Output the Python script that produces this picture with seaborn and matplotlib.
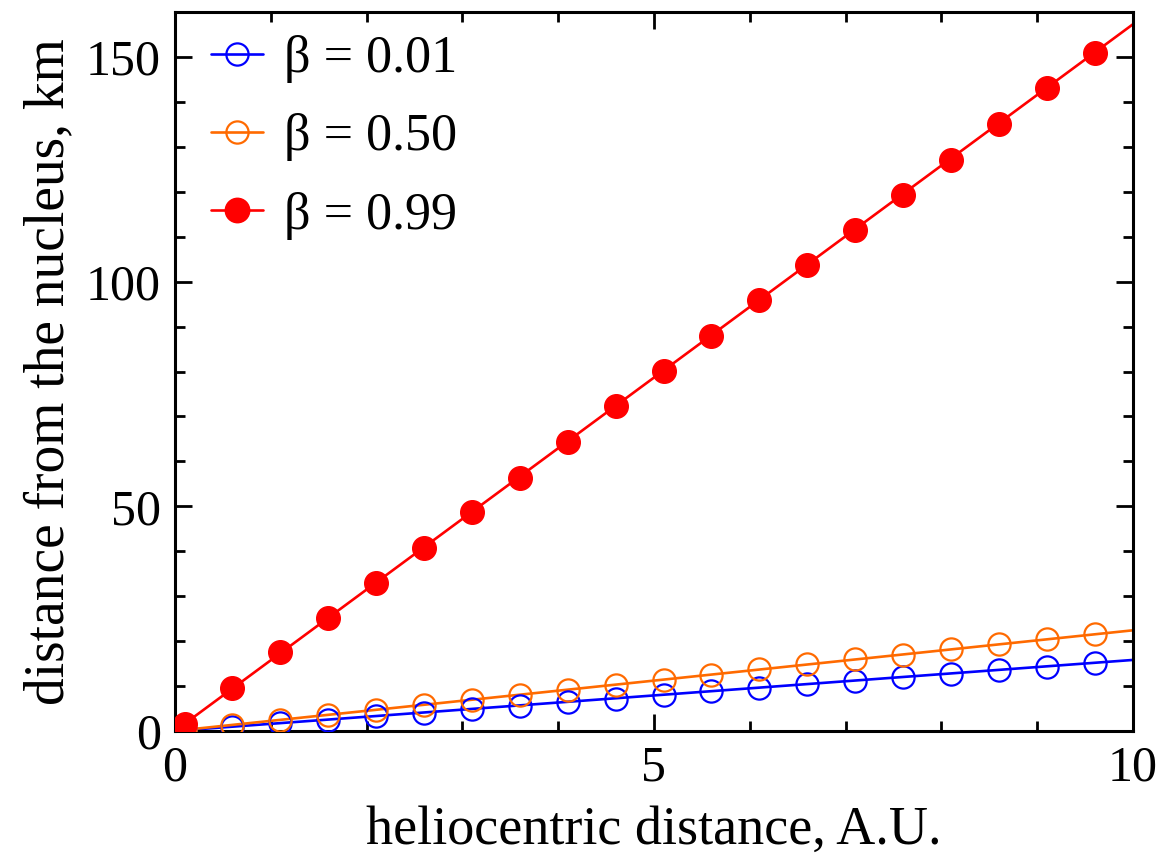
import numpy as np
import pandas as pd
import matplotlib
matplotlib.use("Agg")
import matplotlib.pyplot as plt
import seaborn as sns
from matplotlib.lines import Line2D
from matplotlib.ticker import MultipleLocator

# ---- data ----
x_pts = [0.1, 0.6, 1.1, 1.6, 2.1, 2.6, 3.1, 3.6, 4.1, 4.6,
         5.1, 5.6, 6.1, 6.6, 7.1, 7.6, 8.1, 8.6, 9.1, 9.6]
beta001 = [0.16, 0.94, 1.73, 2.5, 3.3, 4.1, 4.9, 5.6, 6.4, 7.2,
           8.0, 8.8, 9.6, 10.4, 11.1, 11.9, 12.7, 13.5, 14.3, 15.1]
beta050 = [0.22, 1.34, 2.46, 3.58, 4.7, 5.8, 6.9, 8.1, 9.2, 10.3,
           11.4, 12.5, 13.7, 14.8, 15.9, 17.0, 18.2, 19.3, 20.4, 21.5]
beta099 = [1.6, 9.6, 17.6, 25.1, 32.9, 40.7, 48.7, 56.4, 64.4, 72.4,
           80.2, 88.0, 96.0, 103.6, 111.6, 119.3, 127.1, 135.1, 143.1, 150.9]
line_x = [0.0, 10.0]
line001 = [0.0, 15.8]
line050 = [0.0, 22.4]
line099 = [0.0, 157.3]
labels = ["β = 0.01", "β = 0.50", "β = 0.99"]
colors = ["#0000FF", "#FF6A00", "#FF0000"]

sns.set_theme(style="ticks")
plt.rcParams['font.family'] = ['Liberation Serif', 'DejaVu Serif']
for k in ["text.color", "axes.labelcolor", "xtick.color", "ytick.color", "axes.edgecolor"]:
    plt.rcParams[k] = "black"

fig = plt.figure(figsize=(11.68, 8.65), dpi=100)
ax = fig.add_axes([0.1498, 0.155, 0.8202, 0.831])

series = [(beta001, line001, False), (beta050, line050, False), (beta099, line099, True)]
handles = []
for (pts, ln, filled), lab, c in zip(series, labels, colors):
    sns.lineplot(x=line_x, y=ln, ax=ax, color=c, linewidth=1.9, zorder=2)
    df = pd.DataFrame({"x": x_pts, "y": pts})
    if filled:
        ax.plot(df.x, df.y, linestyle="none", marker="o", markersize=17,
                markerfacecolor=c, markeredgecolor=c, zorder=3)
    else:
        ax.plot(df.x, df.y, linestyle="none", marker="o", markersize=16,
                markerfacecolor="none", markeredgecolor=c, markeredgewidth=1.6, zorder=3)
    handles.append(Line2D([0], [0], color=c, linewidth=1.9, marker="o",
                          markersize=17 if filled else 16,
                          markerfacecolor=c if filled else "none",
                          markeredgecolor=c, markeredgewidth=1.6))

ax.set_xlim(0, 10)
ax.set_ylim(0, 160)
ax.xaxis.set_major_locator(MultipleLocator(5))
ax.xaxis.set_minor_locator(MultipleLocator(1))
ax.yaxis.set_major_locator(MultipleLocator(50))
ax.yaxis.set_minor_locator(MultipleLocator(10))
ax.tick_params(which="both", direction="in", top=True, right=True,
               width=2, labelsize=36, colors="black")
ax.tick_params(which="major", length=12, pad=10)
ax.tick_params(which="minor", length=7)
for s in ax.spines.values():
    s.set_linewidth(2.2)
    s.set_color("black")

ax.set_xlabel("heliocentric distance, A.U.", fontsize=39, labelpad=10)
ax.set_ylabel("distance from the nucleus, km", fontsize=40, labelpad=8)

leg = ax.legend(handles, labels, loc="upper left", bbox_to_anchor=(0.016, 0.997),
                frameon=False, fontsize=37.5,
                handlelength=1.0, handletextpad=0.4, labelspacing=0.58,
                borderaxespad=0.0)

fig.savefig("out.png", dpi=100)
